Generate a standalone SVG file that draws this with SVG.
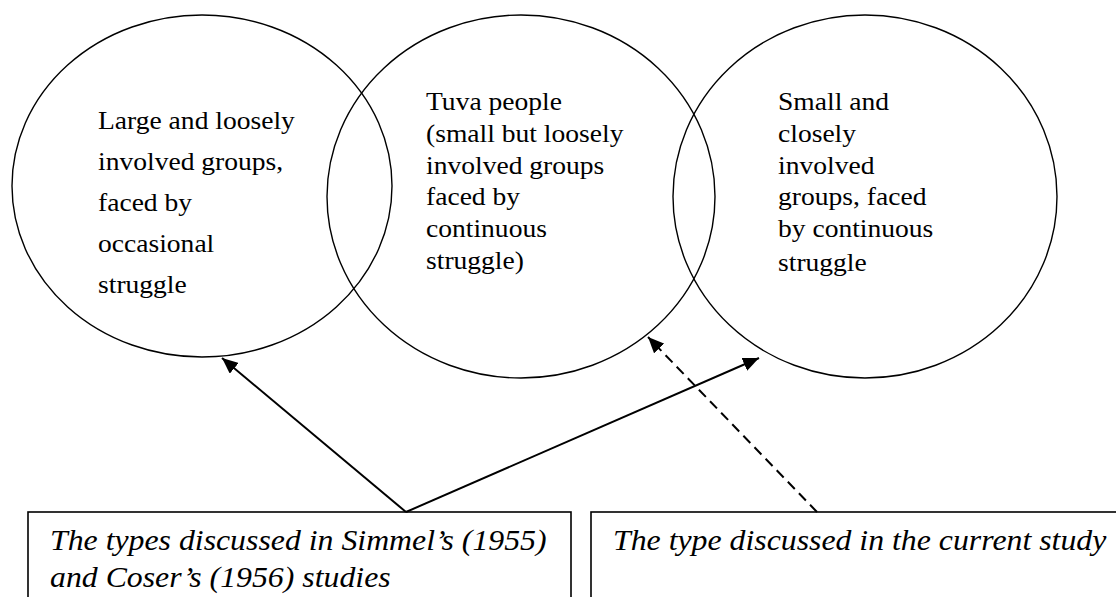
<svg xmlns="http://www.w3.org/2000/svg" width="1116" height="597" viewBox="0 0 1116 597">
  <style>
    .ring { fill: none; stroke: #000; stroke-width: 1.4; }
    .box { fill: #fff; stroke: #000; stroke-width: 1.6; }
    .body { font-size: 26px; fill: #000; }
    .cap { font-size: 30px; font-style: italic; fill: #000; }
    .link { fill: none; stroke: #000; stroke-width: 2; }
    .dash { stroke-dasharray: 10 6; }
  </style>
  <defs>
    <marker id="head" markerUnits="userSpaceOnUse" markerWidth="17" markerHeight="14" refX="16" refY="7" orient="auto">
      <path d="M0,0 L16,7 L0,14 z" fill="#000"/>
    </marker>
  </defs>

  <rect width="1116" height="597" fill="#fff"/>

  <!-- group types as overlapping ellipses -->
  <g id="large-loose">
    <ellipse class="ring" cx="202" cy="186" rx="190" ry="171"/>
    <text class="body" font-family="Liberation Serif, Times New Roman, Tinos, serif" transform="translate(98 0) scale(1.06 1)">
      <tspan x="0" y="129">Large and loosely</tspan>
      <tspan x="0" y="170">involved groups,</tspan>
      <tspan x="0" y="211">faced by</tspan>
      <tspan x="0" y="252">occasional</tspan>
      <tspan x="0" y="293">struggle</tspan>
    </text>
  </g>

  <g id="tuva">
    <ellipse class="ring" cx="521" cy="196.5" rx="194" ry="181.5"/>
    <text class="body" font-family="Liberation Serif, Times New Roman, Tinos, serif" transform="translate(426 0) scale(1.06 1)">
      <tspan x="0" y="110">Tuva people</tspan>
      <tspan x="0" y="142">(small but loosely</tspan>
      <tspan x="0" y="174">involved groups</tspan>
      <tspan x="0" y="205">faced by</tspan>
      <tspan x="0" y="237">continuous</tspan>
      <tspan x="0" y="269">struggle)</tspan>
    </text>
  </g>

  <g id="small-close">
    <ellipse class="ring" cx="865" cy="196.5" rx="192" ry="181.5"/>
    <text class="body" font-family="Liberation Serif, Times New Roman, Tinos, serif" transform="translate(778 0) scale(1.06 1)">
      <tspan x="0" y="110">Small and</tspan>
      <tspan x="0" y="142">closely</tspan>
      <tspan x="0" y="174">involved</tspan>
      <tspan x="0" y="205">groups, faced</tspan>
      <tspan x="0" y="237">by continuous</tspan>
      <tspan x="0" y="271">struggle</tspan>
    </text>
  </g>

  <!-- caption boxes, running past the lower edge -->
  <g id="earlier-studies">
    <rect class="box" x="28" y="512" width="543" height="120"/>
    <text class="cap" font-family="Liberation Serif, Times New Roman, Tinos, serif" transform="translate(50 0) scale(1.06 1)">
      <tspan x="0" y="550">The types discussed in Simmel’s (1955)</tspan>
      <tspan x="0" y="587">and Coser’s (1956) studies</tspan>
    </text>
  </g>

  <g id="current-study">
    <rect class="box" x="591" y="512" width="560" height="120"/>
    <text class="cap" font-family="Liberation Serif, Times New Roman, Tinos, serif" transform="translate(613 0) scale(1.06 1)">
      <tspan x="0" y="550">The type discussed in the current study</tspan>
    </text>
  </g>

  <!-- connectors -->
  <g id="connectors">
    <line class="link" x1="406" y1="512" x2="222" y2="358" marker-end="url(#head)"/>
    <line class="link" x1="406" y1="512" x2="759" y2="358" marker-end="url(#head)"/>
    <line class="link dash" x1="817" y1="512" x2="648" y2="337" marker-end="url(#head)"/>
  </g>
</svg>
